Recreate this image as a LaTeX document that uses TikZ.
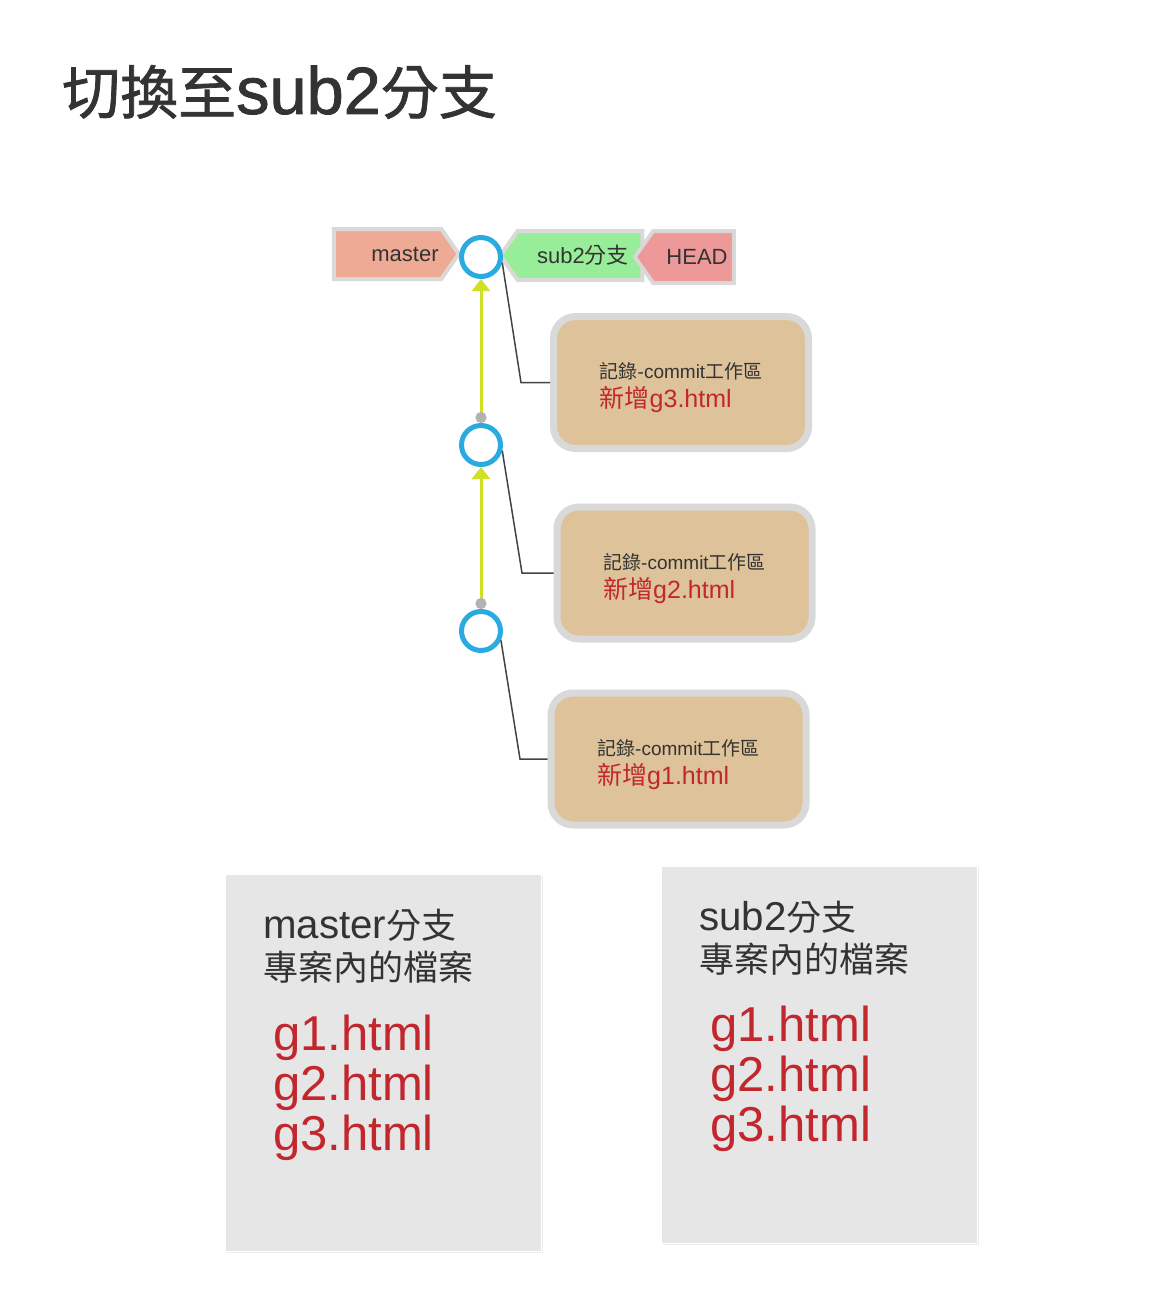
\documentclass[tikz,border=0pt]{standalone}
\usepackage{fontspec}
\setmainfont{Liberation Sans}
\newfontfamily\cjk{Noto Sans CJK TC}
\newfontfamily\cjkbold{Noto Sans CJK TC}[FakeBold=1.3]
\newfontfamily\wide{Liberation Sans}[Scale=1.15]
\newfontfamily\widebold{Liberation Sans}[Scale=1.15,FakeBold=1.3]
\usepackage{tikz}
\usetikzlibrary{shapes.symbols,arrows.meta,shadows}
\definecolor{ink}{HTML}{333333}
\definecolor{tagline}{HTML}{D9D9D9}
\definecolor{mastertag}{HTML}{EEAA94}
\definecolor{subtag}{HTML}{98EE98}
\definecolor{headtag}{HTML}{EE9494}
\definecolor{commitblue}{HTML}{29ABE2}
\definecolor{flowgreen}{HTML}{D0E024}
\definecolor{dotgray}{HTML}{B3B3B3}
\definecolor{leadgray}{HTML}{444444}
\definecolor{boxtan}{HTML}{DEC299}
\definecolor{filered}{HTML}{C1272D}
\definecolor{panelgray}{HTML}{E6E6E6}

\begin{document}
\begin{tikzpicture}[
  title/.style={anchor=west, inner sep=0pt, text=ink, font=\fontsize{58}{64}\selectfont},
  tag/.style={signal, signal pointer angle=110, draw=tagline, line width=4pt, text=ink, inner sep=0pt, font=\fontsize{22}{26}\selectfont},
  commit/.style={circle, draw=commitblue, line width=5pt, fill=white, minimum size=39pt, inner sep=0pt},
  flow/.style={draw=flowgreen, line width=3pt, arrows={Circle[length=11pt,color=dotgray]-Triangle[length=12pt,width=18pt]}},
  lead/.style={draw=leadgray, line width=1.5pt},
  memo/.style={rectangle, rounded corners=22pt, fill=boxtan, draw=tagline, line width=7pt, minimum width=255pt, minimum height=132pt, align=left, text=ink, font=\fontsize{19}{29}\selectfont},
  panel/.style={rectangle, fill=panelgray, draw=white, line width=1pt, minimum width=316pt, minimum height=377pt, drop shadow={opacity=0.15, shadow xshift=2pt, shadow yshift=-2pt}},
  head/.style={anchor=west, inner sep=0pt, align=left, text=ink, font=\fontsize{35}{42}\selectfont},
  files/.style={anchor=west, inner sep=0pt, align=left, text=filered, font=\fontsize{49}{50}\selectfont}
]
  \path[use as bounding box, fill=white] (0pt,0pt) rectangle (1152pt,-1314pt);
  \draw (62.0pt, -92.0pt)node[title](title){{\cjkbold 切換至}{\widebold sub2}{\cjkbold 分支}};
  % branch tags
  \draw (387.5pt, -254.0pt)node[tag, fill=mastertag, signal to=east, minimum width=125pt, minimum height=50pt](master){\hspace*{35pt}master};
  \draw (580.0pt, -255.5pt)node[tag, fill=subtag, signal to=west, minimum width=142pt, minimum height=49pt](sub2){\hspace*{6pt}sub2{\cjk 分支}};
  \draw (693.5pt, -257.0pt)node[tag, fill=headtag, signal to=west, minimum width=99pt, minimum height=52pt, opacity=0.95, text opacity=1](head){\hspace*{7pt}HEAD};
  % commits
  \draw (481.0pt, -257.0pt)node[commit](c3){};
  \draw (481.0pt, -445.0pt)node[commit](c2){};
  \draw (481.0pt, -631.0pt)node[commit](c1){};
  \draw[flow] (c2) -- (c3);
  \draw[flow] (c1) -- (c2);
  % commit notes
  \draw (681.0pt, -382.5pt)node[memo](m3){\rule{0pt}{27pt}{\cjk 記錄}-commit{\cjk 工作區}\\{\color{filered}\fontsize{25}{29}\selectfont{\cjk 新增}g3.html}};
  \draw (684.5pt, -573.0pt)node[memo](m2){\rule{0pt}{27pt}{\cjk 記錄}-commit{\cjk 工作區}\\{\color{filered}\fontsize{25}{29}\selectfont{\cjk 新增}g2.html}};
  \draw (678.5pt, -759.0pt)node[memo](m1){\rule{0pt}{27pt}{\cjk 記錄}-commit{\cjk 工作區}\\{\color{filered}\fontsize{25}{29}\selectfont{\cjk 新增}g1.html}};
  \draw (521.0pt, -382.5pt)coordinate(k3);
  \draw (522.0pt, -573.0pt)coordinate(k2);
  \draw (520.0pt, -759.0pt)coordinate(k1);
  \draw[lead] (c3.-15) -- (k3) -- (m3);
  \draw[lead] (c2.-15) -- (k2) -- (m2);
  \draw[lead] (c1.-25) -- (k1) -- (m1);
  % file panels
  \draw (383.0pt, -1062.5pt)node[panel](lpanel){};
  \draw (819.0pt, -1054.5pt)node[panel](rpanel){};
  \draw (263.0pt, -946.0pt)node[head](lhead){{\wide master}{\cjk 分支}\\{\cjk 專案內的檔案}};
  \draw (699.0pt, -938.0pt)node[head](rhead){{\wide sub2}{\cjk 分支}\\{\cjk 專案內的檔案}};
  \draw (273.0pt, -1088.0pt)node[files](lfiles){g1.html\\g2.html\\g3.html};
  \draw (710.0pt, -1079.0pt)node[files](rfiles){g1.html\\g2.html\\g3.html};
\end{tikzpicture}
\end{document}
